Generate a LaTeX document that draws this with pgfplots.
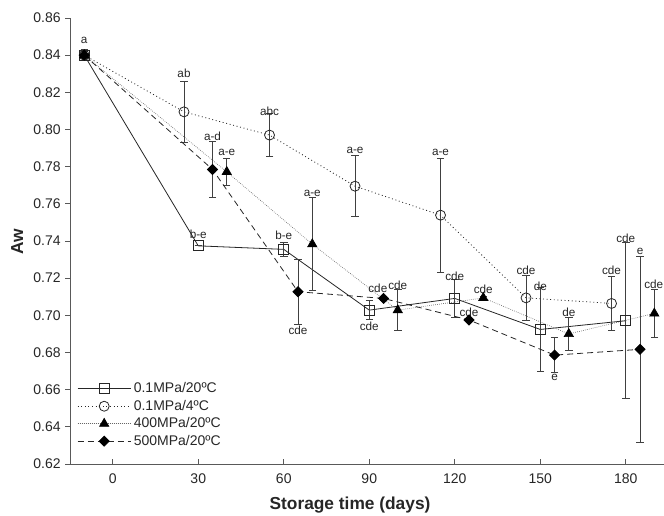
\documentclass[border=0pt]{standalone}
\usepackage{pgfplots}
\pgfplotsset{compat=1.18}
\usepackage{fontspec}
\setmainfont{Liberation Sans}

% letter label next to a point
\newcommand{\lab}[3]{\node[font=\fontsize{8.8}{10}\selectfont,text=black!85,inner sep=0pt] at (axis cs:#1,#2) {#3};}

\begin{document}
\begin{tikzpicture}
\path[use as bounding box] (-52.5pt,-38.25pt) rectangle (445.5pt,348pt);
\begin{axis}[
  at={(0,0)}, anchor=south west,
  scale only axis, width=445.5pt, height=334.5pt,
  xmin=-15, xmax=193.4, ymin=0.62, ymax=0.86,
  xtick={0,30,60,90,120,150,180},
  ytick={0.62,0.64,0.66,0.68,0.70,0.72,0.74,0.76,0.78,0.80,0.82,0.84,0.86},
  axis lines*=left,
  axis line style={black!65,line width=0.7pt,-},
  tick align=outside,
  major tick length=3.5pt,
  tick style={black!65,line width=0.6pt},
  xtick style={yshift=3.5pt},
  /pgf/number format/assume math mode=true,
  ticklabel style={font=\fontsize{10.5}{12}\selectfont,text=black!85},
  yticklabel style={/pgf/number format/.cd,fixed,fixed zerofill,precision=2},
  xlabel={\textbf{Storage time (days)}},
  ylabel={\textbf{Aw}},
  xlabel style={font=\fontsize{13}{15}\selectfont,text=black!85,at={(axis description cs:0.4714,-0.092)},anchor=center},
  ylabel style={font=\fontsize{13}{15}\selectfont,text=black!85,at={(axis description cs:-0.089,0.498)},anchor=center},
  clip=false,
  legend cell align=left,
  legend style={at={(axis description cs:0.005,0.025)},anchor=south west,draw=none,fill=none,
    font=\fontsize{10.5}{12}\selectfont,text=black!85,row sep=0pt},
  legend image code/.code={\draw[mark repeat=2,mark phase=2,#1] plot coordinates {(0cm,0cm) (0.7cm,0cm) (1.4cm,0cm)};},
  error bars/y dir=both, error bars/y explicit,
  error bars/error bar style={solid,black!75,line width=0.6pt},
  error bars/error mark options={solid,rotate=90,mark size=2.8pt,black!75,line width=0.6pt},
]
% 0.1MPa/20C
\addplot[black!85,line width=0.6pt,mark=square,mark size=3.75pt,mark options={solid,fill=white,line width=0.6pt}]
  coordinates {(-10,0.840)+-(0,0.003) (30,0.7374)+-(0,0) (60,0.7355)+-(0,0.004) (90,0.7028)+-(0,0.005)
               (120,0.7091)+-(0,0.010) (150,0.6924)+-(0,0.0225) (180,0.6971)+-(0,0.042)};
\addlegendentry{0.1MPa/20ºC}
% 0.1MPa/4C
\addplot[black!85,line width=0.6pt,dash pattern=on 0.7pt off 2pt,mark=o,mark size=3.75pt,mark options={solid,fill=white,line width=0.6pt}]
  coordinates {(-10,0.840)+-(0,0.002) (25,0.8095)+-(0,0.0165) (55,0.797)+-(0,0.0115) (85,0.7695)+-(0,0.0163)
               (115,0.7539)+-(0,0.0307) (145,0.7094)+-(0,0.012) (175,0.7064)+-(0,0.0143)};
\addlegendentry{0.1MPa/4ºC}
% 400MPa/20C
\addplot[black!60,line width=0.5pt,dash pattern=on 0.5pt off 1pt,mark=triangle*,mark size=4pt,mark options={solid,black,fill=black}]
  coordinates {(-10,0.840)+-(0,0.002) (40,0.7772)+-(0,0.0075) (70,0.7383)+-(0,0.025) (100,0.7028)+-(0,0.011)
               (130,0.7094)+-(0,0.001) (160,0.690)+-(0,0.009) (190,0.701)+-(0,0.013)};
\addlegendentry{400MPa/20ºC}
% 500MPa/20C
\addplot[black!85,line width=0.6pt,dash pattern=on 4.5pt off 3pt,mark=square*,mark size=2.65pt,mark options={solid,rotate=45,black,fill=black}]
  coordinates {(-10,0.840)+-(0,0.002) (35,0.7785)+-(0,0.015) (65,0.7127)+-(0,0.0174) (95,0.7091)+-(0,0.001)
               (125,0.6975)+-(0,0.001) (155,0.6786)+-(0,0.0093) (185,0.6817)+-(0,0.050)};
\addlegendentry{500MPa/20ºC}
% letters
\lab{-10}{0.848}{a}
\lab{25}{0.8305}{ab}
\lab{55}{0.810}{abc}
\lab{85}{0.789}{a-e}
\lab{115}{0.7875}{a-e}
\lab{145}{0.724}{cde}
\lab{175}{0.724}{cde}
\lab{30}{0.7437}{b-e}
\lab{60}{0.7432}{b-e}
\lab{90}{0.6942}{cde}
\lab{120}{0.7211}{cde}
\lab{150}{0.7157}{de}
\lab{180}{0.7416}{cde}
\lab{40}{0.7875}{a-e}
\lab{70}{0.7658}{a-e}
\lab{100}{0.7163}{cde}
\lab{130}{0.7141}{cde}
\lab{160}{0.7014}{de}
\lab{189.8}{0.7168}{cde}
\lab{35}{0.7964}{a-d}
\lab{65}{0.6917}{cde}
\lab{93}{0.7147}{cde}
\lab{125}{0.7018}{cde}
\lab{155}{0.6664}{e}
\lab{185}{0.7342}{e}
\end{axis}
\end{tikzpicture}
\end{document}
